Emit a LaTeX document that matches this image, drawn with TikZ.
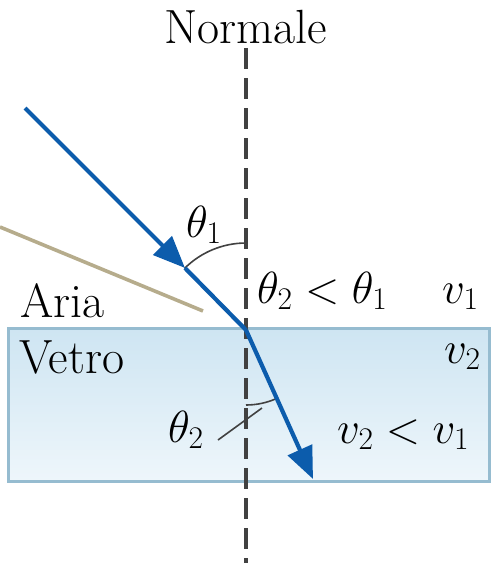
\documentclass[tikz,border=0pt]{standalone}
\usepackage{fix-cm}
\usepackage{fontspec}
\usetikzlibrary{arrows.meta}
\definecolor{raycol}{RGB}{12,92,172}
\definecolor{tanline}{RGB}{182,172,140}
\definecolor{glasstop}{RGB}{206,229,242}
\definecolor{glassbot}{RGB}{238,246,251}
\definecolor{glassedge}{RGB}{150,188,208}
\definecolor{normcol}{RGB}{65,65,65}
\definecolor{thin}{RGB}{65,65,65}
\begin{document}
\begin{tikzpicture}[x=1pt,y=-1pt,
  lbl/.style={inner sep=0pt, font=\fontsize{48}{52}\selectfont},
  mlbl/.style={inner sep=0pt, font=\fontsize{45}{50}\selectfont},
  raystyle/.style={draw=raycol, line width=4.2pt},
  rayarrow/.style={-{Triangle[length=32pt,width=26pt]}},
  thinline/.style={draw=thin, line width=1.6pt}]
\useasboundingbox (0,0) rectangle (500,563);
% glass
\shade[top color=glasstop, bottom color=glassbot] (8,328) rectangle (489,481);
\draw[glassedge, line width=3pt] (8,328) rectangle (489,481);
% normal
\coordinate (ntop) at (246,48);
\coordinate (nbot) at (246,563);
\draw[normcol, line width=3.2pt, dash pattern=on 21pt off 9pt] (ntop) -- (nbot);
% reflected (tan) ray
\coordinate (t1) at (0,227);
\coordinate (t2) at (203,311);
\draw[tanline, line width=3.6pt] (t1) -- (t2);
% angle arcs
\coordinate (o) at (246,330);
\draw[thinline] (246,243) arc[start angle=-90, end angle=-135, radius=87];
\draw[thinline] (246,405) arc[start angle=90, end angle=66, radius=75];
\coordinate (l1) at (218,440);
\coordinate (l2) at (262,408);
\draw[thinline] (l1) -- (l2);
% rays
\coordinate (s) at (25,108);
\coordinate (m) at (185,268);
\coordinate (e) at (313,479);
\draw[raystyle, rayarrow] (s) -- (m);
\draw[raystyle] (m) -- (o);
\draw[raystyle, rayarrow] (o) -- (e);
% labels
\node[lbl, anchor=base] (normale) at (246,43) {Normale};
\node[lbl, anchor=base west] (aria) at (20,317) {Aria};
\node[lbl, anchor=base west] (vetro) at (19,373) {Vetro};
\node[mlbl, anchor=base west] (th1) at (186,237) {$\theta_1$};
\node[mlbl, anchor=base west] (cmp1) at (257,303) {$\theta_2<\theta_1$};
\node[mlbl, anchor=base west] (v1) at (442,303) {$v_1$};
\node[mlbl, anchor=base west] (v2) at (444,363) {$v_2$};
\node[mlbl, anchor=base west] (th2) at (168,442) {$\theta_2$};
\node[mlbl, anchor=base west] (cmp2) at (337,443) {$v_2<v_1$};
\end{tikzpicture}
\end{document}
